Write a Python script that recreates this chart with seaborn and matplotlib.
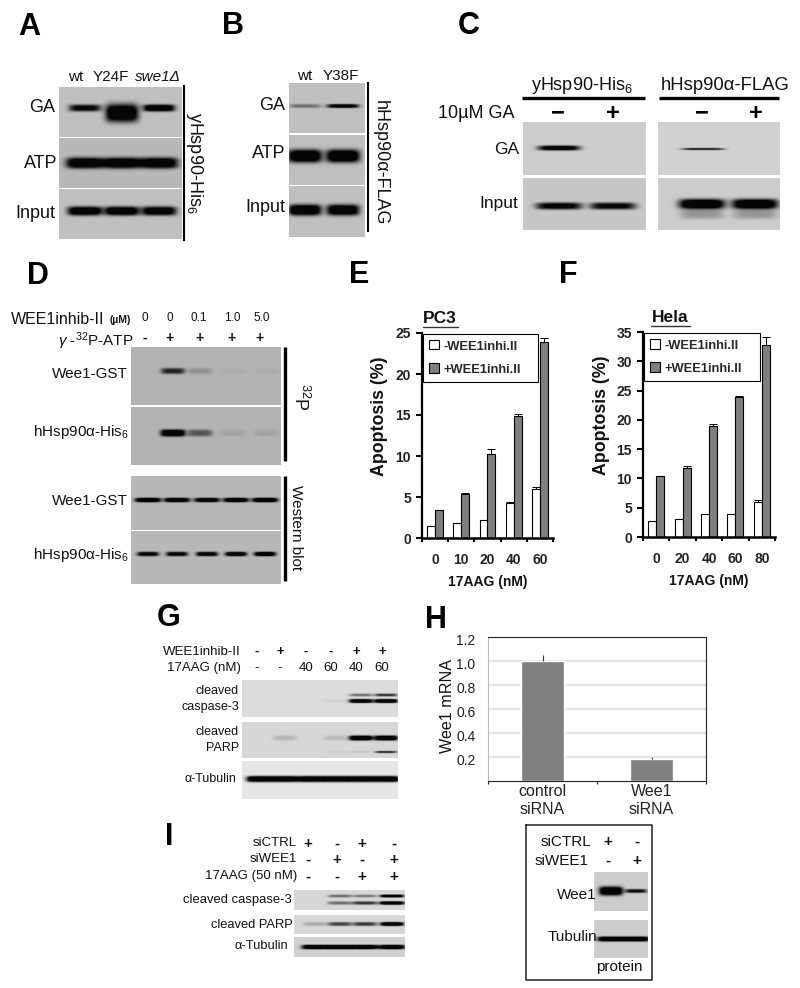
import numpy as np
import pandas as pd
import matplotlib
matplotlib.use('Agg')
import matplotlib.pyplot as plt
from matplotlib.transforms import ScaledTranslation
import seaborn as sns

W, H = 800, 988

# chart values
doses_e = ['0', '10', '20', '40', '60']
minus_e = [1.5, 1.8, 2.2, 4.3, 6.0]
plus_e = [3.4, 5.4, 10.3, 14.9, 23.9]
minus_e_err = [0, 0, 0, 0.05, 0.2]
plus_e_err = [0.05, 0.1, 0.5, 0.2, 0.5]

doses_f = ['0', '20', '40', '60', '80']
minus_f = [2.8, 3.0, 4.0, 4.0, 6.0]
plus_f = [10.4, 11.8, 19.0, 23.9, 32.7]
minus_f_err = [0, 0.15, 0, 0, 0.4]
plus_f_err = [0.1, 0.4, 0.3, 0.1, 1.5]

sirna = ['control\nsiRNA', 'Wee1\nsiRNA']
mrna = [1.0, 0.18]
mrna_err = [0.05, 0.02]

# band intensities per lane
a_ga = [0.75, 0, 0.95]
a_ga_thick = [0, 1.0, 0]
a_atp = [0.95, 0.95, 0.95]
a_input = [0.95, 0.95, 0.9]
b_ga = [0.3, 0.85]
b_atp = [1.0, 1.0]
b_input = [1.0, 0.95]
c_y_ga = [0.85, 0]
c_y_input = [0.8, 0.75]
c_h_ga = [0.6, 0]
c_h_input = [1.0, 1.0]
c_h_smear = [0.2, 0.2]
d_wee1_p = [0, 0.6, 0.15, 0.03, 0.03]
d_hsp_p = [0, 1.0, 0.4, 0.07, 0.07]
d_wee1_w = [1.0, 0.95, 0.9, 0.95, 1.0]
d_hsp_w = [0.8, 0.8, 0.85, 0.9, 0.95]
g_casp_up = [0, 0, 0, 0, 0.35, 0.55]
g_casp_low = [0, 0, 0, 0.03, 0.95, 0.95]
g_parp = [0, 0.12, 0, 0.1, 1.0, 1.0]
g_parp_low = [0, 0, 0, 0.03, 0.05, 0.55]
g_tub = [1.0, 1.0, 1.0, 1.0, 1.0, 1.0]
i_casp_up = [0, 0.35, 0.3, 0.95]
i_casp_low = [0, 0.35, 0.55, 1.0]
i_parp = [0.15, 0.5, 0.55, 0.95]
i_tub = [0.95, 0.95, 0.95, 0.95]
h_wee1_ctrl = [1.0, 0]
h_wee1_si = [0, 0.7]
h_tub = [1.0, 1.0]

sns.set_theme(style='white')
plt.rcParams['font.family'] = ['Liberation Sans', 'DejaVu Sans']
plt.rcParams['mathtext.fontset'] = 'custom'
plt.rcParams['mathtext.rm'] = 'Liberation Sans'
plt.rcParams['mathtext.it'] = 'Liberation Sans:italic'
plt.rcParams['mathtext.bf'] = 'Liberation Sans:bold'

fig = plt.figure(figsize=(W / 100, H / 100), dpi=100, facecolor='white')


def px_axes(x0, y0, x1, y1, **kw):
    return fig.add_axes([x0 / W, 1 - y1 / H, (x1 - x0) / W, (y1 - y0) / H], **kw)


page = px_axes(0, 0, W, H, zorder=10)
page.set_xlim(0, W)
page.set_ylim(H, 0)
page.axis('off')
page.patch.set_alpha(0)


def txt(x, y, s, size=10, ha='right', **kw):
    page.text(x, y, s, fontsize=size, ha=ha, va='center', color=kw.pop('color', '#111111'), **kw)


def vbar(x, y0, y1, lw=1.5):
    page.plot([x, x], [y0, y1], color='black', lw=lw, solid_capstyle='butt')


def blot(x0, y0, x1, y1, bg, lanes, rows):
    # rows: (values, y centre, band height, band width)
    nx, ny = int(x1 - x0), int(y1 - y0)
    xx, yy = np.meshgrid(np.arange(nx) + x0 + 0.5, np.arange(ny) + y0 + 0.5)
    dark = np.zeros_like(xx)
    for values, yc, bh, bw in rows:
        for cx, v in zip(lanes, values):
            dark += 1.4 * v * np.exp(-np.abs((xx - cx) / (bw / 2)) ** 5 - np.abs((yy - yc) / (bh / 2)) ** 3)
    img = bg - (bg - 0.02) * np.clip(dark, 0, 1)
    ax = px_axes(x0, y0, x1, y1)
    sns.heatmap(img, ax=ax, cbar=False, cmap='gray', vmin=0, vmax=1, xticklabels=False, yticklabels=False)


def apoptosis(box, doses, minus, plus, minus_err, plus_err, ymax, step, legend_box, title, title_x, line, ylabel_x):
    ax = px_axes(*box)
    ax.patch.set_alpha(0)
    df = pd.DataFrame({
        'dose': doses * 2,
        'value': minus + plus,
        'series': ['-WEE1inhi.II'] * 5 + ['+WEE1inhi.II'] * 5,
    })
    sns.barplot(data=df, x='dose', y='value', hue='series', ax=ax, width=0.6, gap=0,
                palette=['white', '#7f7f7f'], edgecolor='black', linewidth=0.8, errorbar=None)
    for cont, err in zip(ax.containers, [minus_err, plus_err]):
        for bar, e in zip(cont, err):
            if e > 0:
                ax.errorbar(bar.get_x() + bar.get_width() / 2, bar.get_height(), yerr=[[0], [e]],
                            color='black', lw=0.7, capsize=3, capthick=0.7, clip_on=False)
    ax.set_xlim(-0.5, 4.5)
    ax.set_ylim(0, ymax)
    ax.set_xticks(np.arange(-0.5, 5), labels=[''] * 6)
    ax.set_xticks(range(5), labels=doses, minor=True)
    ax.set_yticks(np.arange(0, ymax + 1, step))
    ax.tick_params(axis='x', which='major', bottom=True, length=3, width=1.5, color='black')
    ax.tick_params(axis='x', which='minor', bottom=False, pad=7, labelsize=10, labelcolor='#222222')
    ax.tick_params(axis='y', left=True, length=4, width=1.5, color='black', pad=4, labelsize=10, labelcolor='#222222')
    for lab in ax.get_xticklabels(minor=True) + ax.get_yticklabels():
        lab.set_fontweight('bold')
    sns.despine(ax=ax)
    ax.spines['left'].set_linewidth(1.6)
    ax.spines['bottom'].set_linewidth(1.8)
    ax.spines['left'].set_color('black')
    ax.spines['bottom'].set_color('black')
    ax.set_xlabel('')
    ax.set_ylabel('')
    # legend box given in pixels
    lx0, ly0, lx1, ly1 = legend_box
    bx0, by0, bx1, by1 = box
    anchor = ((lx0 - bx0) / (bx1 - bx0), (by1 - ly1) / (by1 - by0), (lx1 - lx0) / (bx1 - bx0), (ly1 - ly0) / (by1 - by0))
    leg = ax.legend(loc='upper left', bbox_to_anchor=anchor, mode='expand', frameon=True, fancybox=False,
                    edgecolor='black', framealpha=1, borderaxespad=0, handlelength=0.7, handleheight=0.7,
                    handletextpad=0.4, labelspacing=0.85, borderpad=0.5, prop={'weight': 'bold', 'size': 9.3})
    leg.get_frame().set_linewidth(0.8)
    txt(ylabel_x, by0 + 83, 'Apoptosis (%)', size=12.8, ha='center', rotation=90, weight='bold')
    txt(title_x, by0 - 15, title, size=12.5, ha='center', weight='bold')
    page.plot(line, [by0 - 6] * 2, color='#333333', lw=1)
    txt((bx0 + bx1) / 2 + 0, by1 + 44, '17AAG (nM)', size=10, ha='center', weight='bold')


# panel letters
for s, x, y in [('A', 29, 27), ('B', 233, 26), ('C', 469, 26), ('D', 38, 276), ('E', 359, 275),
                ('F', 568, 275), ('G', 169, 618), ('H', 436, 620), ('I', 169, 837)]:
    txt(x, y, s, size=22, ha='center', weight='bold', color='black')

# A
lanes_a = [85, 122, 159]
blot(59, 87, 182, 137, 0.75, lanes_a, [(a_ga, 108, 7, 32), (a_ga_thick, 113, 18, 33)])
blot(59, 138, 182, 188, 0.72, lanes_a, [(a_atp, 163, 11, 38)])
blot(59, 189, 182, 239, 0.75, lanes_a, [(a_input, 211, 9, 35)])
for x, s in [(76, 'wt'), (111, 'Y24F')]:
    txt(x, 77, s, size=11, ha='center')
txt(158, 77, 'swe1Δ', size=11, ha='center', style='italic')
txt(55, 108, 'GA', size=13)
txt(57, 164, 'ATP', size=13)
txt(55, 213, 'Input', size=13)
vbar(183.5, 85, 241)
txt(195, 163, 'yHsp90-His$_6$', size=13, ha='center', rotation=270)

# B
lanes_b = [305, 343]
blot(289, 83, 365, 133, 0.75, lanes_b, [(b_ga, 106, 4, 32)])
blot(289, 135, 365, 185, 0.75, lanes_b, [(b_atp, 156, 13, 34)])
blot(289, 186, 365, 237, 0.75, lanes_b, [(b_input, 210, 11, 33)])
txt(305, 76, 'wt', size=11, ha='center')
txt(341, 76, 'Y38F', size=11, ha='center')
txt(285, 106, 'GA', size=13)
txt(285, 153, 'ATP', size=13)
txt(285, 207, 'Input', size=13)
vbar(368, 82, 232)
txt(380, 163, 'hHsp90α-FLAG', size=13, ha='center', rotation=270)

# C
blot(523, 122, 646, 175, 0.80, [559, 613], [(c_y_ga, 148, 5, 42)])
blot(523, 178, 646, 230, 0.78, [559, 613], [(c_y_input, 206, 7, 46)])
blot(658, 122, 780, 175, 0.82, [703, 756], [(c_h_ga, 149, 2.5, 42)])
blot(658, 178, 780, 230, 0.80, [702, 755], [(c_h_input, 204, 10, 46), (c_h_smear, 214, 10, 44)])
txt(582, 85, 'yHsp90-His$_6$', size=13, ha='center')
txt(725, 85, 'hHsp90α-FLAG', size=13.3, ha='center')
for x in [(522, 645), (659, 779)]:
    page.plot(x, [98, 98], color='black', lw=2.4, solid_capstyle='butt')
txt(514, 113, '10µM GA', size=13)
for x, s in [(558, '−'), (613, '+'), (702, '−'), (756, '+')]:
    txt(x, 113, s, size=17, ha='center', weight='bold', color='black')
txt(519, 149, 'GA', size=12.5)
txt(518, 203, 'Input', size=12.5)

# D
lanes_p = [148, 173, 200, 233, 267]
lanes_w = [148, 177, 207, 236, 265]
blot(131, 347, 281, 405, 0.70, lanes_p, [(d_wee1_p, 371, 6, 24)])
blot(131, 407, 281, 465, 0.70, lanes_p, [(d_hsp_p, 433, 7, 25)])
blot(131, 476, 281, 530, 0.72, lanes_w, [(d_wee1_w, 500, 4.5, 26)])
blot(131, 531, 281, 584, 0.72, lanes_w, [(d_hsp_w, 554, 4.5, 22)])
txt(104, 319, 'WEE1inhib-II', size=11.5)
txt(131, 320, '(µM)', size=7.5, weight='bold')
for x, s in zip([145, 170, 199, 232, 262], ['0', '0', '0.1', '1.0', '5.0']):
    txt(x, 318, s, size=8.5, ha='center')
txt(133, 341, r'$\gamma$ -$^{32}$P-ATP', size=11)
for x, s in zip([145, 169, 200, 231, 259], ['-', '+', '+', '+', '+']):
    txt(x, 338, s, size=10, ha='center', weight='bold')
txt(128, 374, 'Wee1-GST', size=11)
txt(129, 432, 'hHsp90α-His$_6$', size=11)
txt(128, 501, 'Wee1-GST', size=11)
txt(129, 555, 'hHsp90α-His$_6$', size=11)
vbar(285, 347, 461, lw=2.4)
vbar(285, 476, 581, lw=2.4)
txt(300, 397, '$^{32}$P', size=13, ha='center', rotation=270)
txt(296, 528, 'Western blot', size=11, ha='center', rotation=270)

# E, F
apoptosis((422, 333, 553, 538), doses_e, minus_e, plus_e, minus_e_err, plus_e_err, 25, 5,
          (423, 334, 538, 379), 'PC3', 440, [423, 458], 379)
apoptosis((643, 332, 775, 537), doses_f, minus_f, plus_f, minus_f_err, plus_f_err, 35, 5,
          (644, 333, 760, 378), 'Hela', 670, [651, 690], 602)

# G
lanes_g = [260, 285, 311, 336, 361, 386]
blot(242, 680, 398, 717, 0.86, lanes_g, [(g_casp_up, 695, 3, 23), (g_casp_low, 701, 4, 24)])
blot(242, 722, 398, 758, 0.84, lanes_g, [(g_parp, 738, 5, 24), (g_parp_low, 752, 2.5, 22)])
blot(242, 761, 398, 799, 0.90, lanes_g, [(g_tub, 779, 6, 27)])
txt(241, 652, 'WEE1inhib-II', size=9.5)
txt(241, 668, '17AAG (nM)', size=9.5)
for x, s in zip([257, 280, 306, 331, 356, 382], ['-', '+', '-', '-', '+', '+']):
    txt(x, 652, s, size=9.5, ha='center', weight='bold')
for x, s in zip([257, 280, 306, 331, 356, 382], ['-', '-', '40', '60', '40', '60']):
    txt(x, 668, s, size=9.5, ha='center')
txt(239, 691, 'cleaved', size=9)
txt(239, 707, 'caspase-3', size=9)
txt(239, 732, 'cleaved', size=9)
txt(239, 748, 'PARP', size=9)
txt(236, 779, 'α-Tubulin', size=9)

# I
lanes_i = [315, 340, 365, 392]
blot(294, 890, 405, 910, 0.84, lanes_i, [(i_casp_up, 896, 3, 24), (i_casp_low, 903, 3.5, 25)])
blot(294, 915, 405, 934, 0.84, lanes_i, [(i_parp, 924, 4, 24)])
blot(294, 937, 405, 957, 0.82, lanes_i, [(i_tub, 947, 4.5, 27)])
sign_x = [308, 337, 362, 394]
for y, label, signs in [(843, 'siCTRL', '+-+-'), (859, 'siWEE1', '-+-+'), (876, '17AAG (50 nM)', '--++')]:
    txt(297, y, label, size=9.5)
    for x, s in zip(sign_x, signs):
        txt(x, y + 1, s, size=11, ha='center', weight='bold')
txt(292, 900, 'cleaved caspase-3', size=9.4)
txt(293, 925, 'cleaved PARP', size=9.3)
txt(288, 946, 'α-Tubulin', size=9.3)

# H
ax = px_axes(488, 637, 706, 781)
sns.barplot(x=sirna, y=mrna, ax=ax, width=0.39, color='#808080', saturation=1, errorbar=None, zorder=3)
for bar, e in zip(ax.containers[0], mrna_err):
    ax.errorbar(bar.get_x() + bar.get_width() / 2, bar.get_height(), yerr=[[0], [e]], color='#333333', lw=0.8, zorder=4)
ax.set_ylim(0, 1.2)
ax.set_xlim(-0.5, 1.5)
ax.set_yticks([0.2, 0.4, 0.6, 0.8, 1.0, 1.2], labels=['0.2', '0.4', '0.6', '0.8', '1.0', '1.2'])
ax.set_xticks([-0.5, 0.5, 1.5], labels=['', '', ''])
ax.set_xticks([0, 1], labels=sirna, minor=True)
ax.yaxis.grid(True, color='#e4e4e4', lw=1.5, zorder=0)
ax.xaxis.grid(False)
ax.set_axisbelow(True)
ax.tick_params(axis='y', left=False, pad=3, labelsize=10, labelcolor='#222222')
ax.tick_params(axis='x', which='major', bottom=True, length=2, width=0.8, color='#222222')
ax.tick_params(axis='x', which='minor', bottom=False, pad=-2, labelsize=11.5, labelcolor='#222222')
for lab in ax.get_xticklabels(minor=True):
    lab.set_linespacing(1.3)
for lab in ax.get_yticklabels():
    lab.set_transform(lab.get_transform() + ScaledTranslation(0, -2 / 100, fig.dpi_scale_trans))
for side in ['top', 'right', 'bottom']:
    ax.spines[side].set_color('#222222')
    ax.spines[side].set_linewidth(0.8)
ax.spines['left'].set_color('#bbbbbb')
ax.spines['left'].set_linewidth(0.8)
ax.set_ylabel('')
txt(447, 706, 'Wee1 mRNA', size=11.6, ha='center', rotation=90)

page.plot([526, 652, 652, 526, 526], [825, 825, 980, 980, 825], color='#222222', lw=1.1)
blot(594, 872, 648, 911, 0.80, [611, 636], [(h_wee1_ctrl, 891, 9, 24), (h_wee1_si, 891, 4, 22)])
blot(594, 920, 648, 958, 0.80, [611, 636], [(h_tub, 939, 5, 27)])
txt(591, 842, 'siCTRL', size=11)
txt(589, 861, 'siWEE1', size=11)
for x, a, b in [(608, '+', '-'), (637, '-', '+')]:
    txt(x, 842, a, size=11, ha='center', weight='bold')
    txt(x, 861, b, size=11, ha='center', weight='bold')
txt(597, 895, 'Wee1', size=11)
txt(597, 937, 'Tubulin', size=11)
txt(619, 967, 'protein', size=11, ha='center')

fig.savefig('out.png', dpi=100, facecolor='white')
